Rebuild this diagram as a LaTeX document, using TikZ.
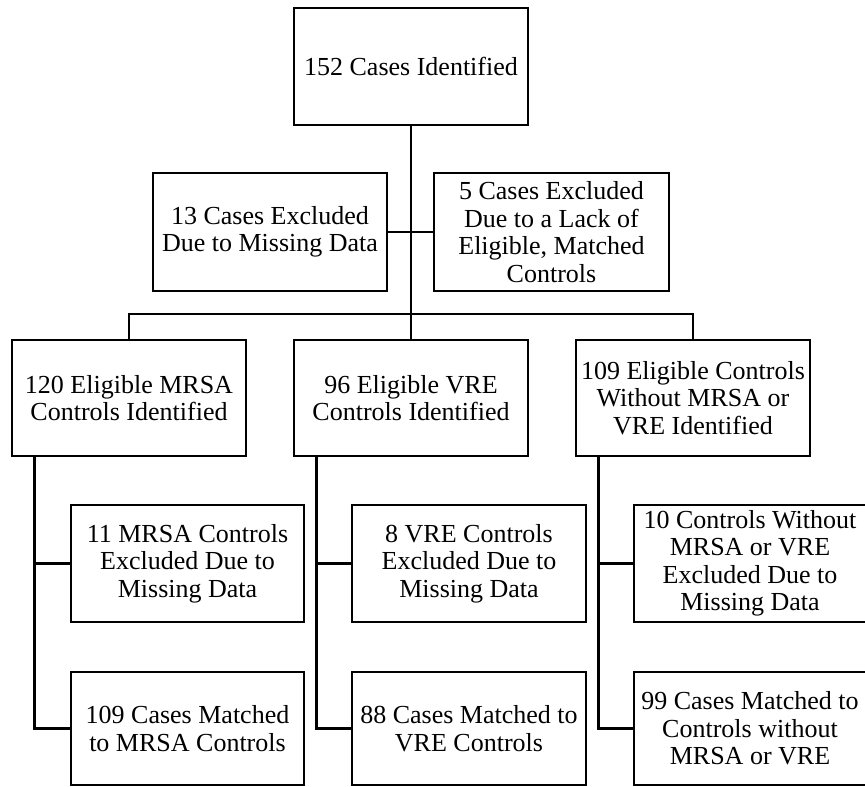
\documentclass[tikz,border=0pt]{standalone}
\usepackage{fontspec}
\setmainfont{Liberation Serif}
\begin{document}
\begin{tikzpicture}[x=1pt, y=-1pt,
  box/.style={draw=black, line width=2.7pt, rectangle, inner sep=0pt,
    align=center, font=\fontsize{26}{27.5}\selectfont},
  wire/.style={draw=black, line width=2.7pt}]
\useasboundingbox (0,0) rectangle (865,787);

% top level
\node[box, minimum width=234pt, minimum height=117pt] (top) at (411,66.5) {152 Cases Identified};
\node[box, minimum width=234pt, minimum height=118pt] (ex1) at (270,232) {13 Cases Excluded\\Due to Missing Data};
\node[box, minimum width=235pt, minimum height=118pt] (ex2) at (551.5,232) {5 Cases Excluded\\Due to a Lack of\\Eligible, Matched\\Controls};
\coordinate (hub) at (411,314);

% control groups
\node[box, minimum width=234pt, minimum height=116pt] (r1) at (129,398) {120 Eligible MRSA\\Controls Identified};
\node[box, minimum width=234pt, minimum height=116pt] (r2) at (411,398) {96 Eligible VRE\\Controls Identified};
\node[box, minimum width=234pt, minimum height=116pt] (r3) at (693,398) {109 Eligible Controls\\Without MRSA or\\VRE Identified};

% exclusions per group
\node[box, minimum width=233pt, minimum height=117pt] (a1) at (187.5,563.5) {11 MRSA Controls\\Excluded Due to\\Missing Data};
\node[box, minimum width=234pt, minimum height=117pt] (a2) at (469,563.5) {8 VRE Controls\\Excluded Due to\\Missing Data};
\node[box, minimum width=232pt, minimum height=117pt] (a3) at (750,563.5) {10 Controls Without\\MRSA or VRE\\Excluded Due to\\Missing Data};

% matched cases
\node[box, minimum width=233pt, minimum height=113pt] (b1) at (187.5,728.5) {109 Cases Matched\\to MRSA Controls};
\node[box, minimum width=234pt, minimum height=113pt] (b2) at (469,728.5) {88 Cases Matched to\\VRE Controls};
\node[box, minimum width=232pt, minimum height=113pt] (b3) at (750,728.5) {99 Cases Matched to\\Controls without\\MRSA or VRE};

% connectors
\draw[wire] (top.south) -- (hub);
\draw[wire] (ex1.east) -- (ex2.west);
\draw[wire] (r1.north) |- (hub) -| (r3.north);
\draw[wire] (hub) -- (r2.north);

\coordinate (s1) at ([xshift=24pt]r1.south west);
\coordinate (s2) at ([xshift=24pt]r2.south west);
\coordinate (s3) at ([xshift=24pt]r3.south west);
\draw[wire] (s1) |- (b1.west);
\draw[wire] (s1 |- a1.west) -- (a1.west);
\draw[wire] (s2) |- (b2.west);
\draw[wire] (s2 |- a2.west) -- (a2.west);
\draw[wire] (s3) |- (b3.west);
\draw[wire] (s3 |- a3.west) -- (a3.west);
\end{tikzpicture}
\end{document}
